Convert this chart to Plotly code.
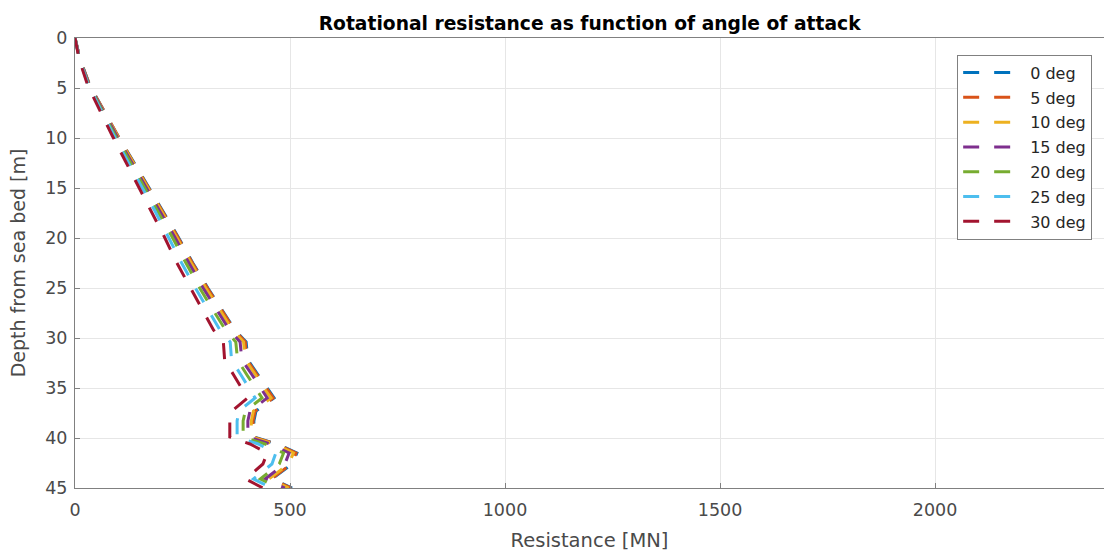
import plotly.graph_objects as go

# Depth below sea bed [m]
depth = [0, 2.2, 4.8, 7.3, 9.8, 12.3, 14.8, 17.3, 19.9, 22.5, 25.0, 27.2, 29.2,
         30.4, 32.2, 33.7, 35.2, 36.0, 37.3, 38.3, 39.9, 40.6, 41.5, 42.6, 44.1, 45.0]

# Rotational resistance [MN] for each angle of attack
res_0 = [0, 12, 35, 67, 100, 135, 170, 205, 240, 274, 309, 342, 372,
         398, 402, 426, 449, 463, 421, 416, 416, 470, 516, 505, 458, 505]
res_5 = [0, 12, 35, 67, 100, 134, 169, 204, 239, 273, 308, 341, 371,
         396, 400, 424, 447, 461, 419, 414, 414, 468, 514, 503, 456, 503]
res_10 = [0, 12, 34, 66, 99, 133, 167, 202, 236, 270, 304, 337, 366,
          392, 396, 420, 442, 456, 415, 410, 410, 463, 508, 497, 451, 497]
res_15 = [0, 12, 34, 65, 97, 130, 164, 198, 232, 265, 298, 330, 359,
          384, 388, 412, 434, 447, 407, 402, 402, 454, 498, 488, 442, 488]
res_20 = [0, 11, 33, 63, 94, 127, 160, 193, 226, 258, 290, 321, 350,
          374, 378, 400, 422, 435, 396, 391, 391, 442, 485, 475, 431, 475]
res_25 = [0, 11, 32, 61, 91, 122, 154, 186, 217, 248, 280, 310, 337,
          361, 364, 386, 407, 419, 381, 377, 377, 426, 467, 458, 415, 458]
res_30 = [0, 10, 30, 58, 87, 117, 147, 178, 208, 237, 268, 296, 322,
          345, 348, 369, 389, 401, 365, 360, 360, 407, 447, 437, 397, 437]

series_names = ["0 deg", "5 deg", "10 deg", "15 deg", "20 deg", "25 deg", "30 deg"]
series_values = [res_0, res_5, res_10, res_15, res_20, res_25, res_30]
colors = ["#0072BD", "#D95319", "#EDB120", "#7E2F8E", "#77AC30", "#4DBEEE", "#A2142F"]

x_ticks = [0, 500, 1000, 1500, 2000]
y_ticks = [0, 5, 10, 15, 20, 25, 30, 35, 40, 45]

FONT = "DejaVu Sans, Verdana, sans-serif"

fig = go.Figure()
for i, (name, vals) in enumerate(zip(series_names, series_values)):
    fig.add_trace(go.Scatter(
        x=vals, y=depth, mode="lines", name=name,
        legendgroup=f"g{i}",
        line=dict(color=colors[i], width=3, dash="16px,15px"),
    ))

axis_common = dict(
    showline=True, linecolor="#808080", linewidth=1, mirror=True,
    showgrid=True, gridcolor="#e6e6e6", gridwidth=1,
    ticks="inside", ticklen=5, tickcolor="#808080",
    tickfont=dict(family=FONT, size=17.5, color="#4a4a4a"),
    zeroline=False,
)

fig.update_layout(
    width=1104, height=558,
    paper_bgcolor="white", plot_bgcolor="white",
    margin=dict(l=75, r=0, t=38, b=70),
    title=dict(
        text="<b>Rotational resistance as function of angle of attack</b>",
        x=0.5341, xanchor="center", y=0.958, yanchor="middle",
        font=dict(family=FONT, size=18.7, color="#000000"),
    ),
    xaxis=dict(
        range=[0, 2393], tickvals=x_ticks, ticklabelstandoff=6,
        title=dict(text="Resistance [MN]", standoff=14,
                   font=dict(family=FONT, size=19.5, color="#4a4a4a")),
        **axis_common,
    ),
    yaxis=dict(
        range=[45, 0], tickvals=y_ticks, ticklabelstandoff=3,
        title=dict(text="Depth from sea bed [m]", standoff=14,
                   font=dict(family=FONT, size=19, color="#4a4a4a")),
        **axis_common,
    ),
    legend=dict(
        x=0.9885, xanchor="right", y=0.963, yanchor="top",
        bgcolor="white", bordercolor="#808080", borderwidth=1,
        font=dict(family=FONT, size=16, color="#262626"),
        tracegroupgap=1, itemwidth=62,
    ),
    showlegend=True,
)

fig.write_html("out.html")
